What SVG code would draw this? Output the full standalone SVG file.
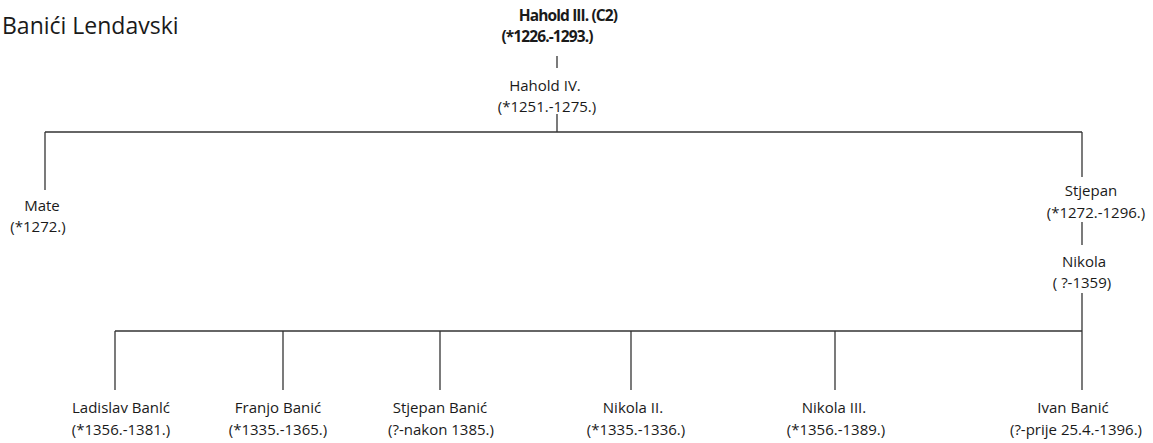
<svg xmlns="http://www.w3.org/2000/svg" width="1153" height="443" viewBox="0 0 1153 443">
<style>
text{font-family:"Open Sans","Noto Sans","Liberation Sans",sans-serif;font-size:15px;fill:#1a1a1a;text-anchor:middle}
.b{font-weight:bold;font-size:15.5px;letter-spacing:-0.9px}
.t{font-size:23px;text-anchor:start}
.c line{stroke:#333;stroke-width:1.3;fill:none}
</style>
<rect width="1153" height="443" fill="#fff"/>
<text class="t" x="2" y="34">Banići Lendavski</text>
<g class="c" id="connectors">
<line x1="557" y1="56" x2="557" y2="68"/>
<line x1="557" y1="114" x2="557" y2="132"/>
<line x1="45" y1="132" x2="1082" y2="132"/>
<line x1="45" y1="132" x2="45" y2="190"/>
<line x1="1082" y1="132" x2="1082" y2="177"/>
<line x1="1082" y1="222" x2="1082" y2="245"/>
<line x1="1082" y1="293" x2="1082" y2="390"/>
<line x1="115" y1="331" x2="1082" y2="331"/>
<line x1="115" y1="331" x2="115" y2="390"/>
<line x1="283" y1="331" x2="283" y2="390"/>
<line x1="440" y1="331" x2="440" y2="390"/>
<line x1="631" y1="331" x2="631" y2="390"/>
<line x1="835" y1="331" x2="835" y2="390"/>
</g>
<g id="hahold3"><text class="b" x="568" y="21">Hahold III. (C2)</text><text class="b" x="547" y="42">(*1226.-1293.)</text></g>
<g id="hahold4"><text x="545" y="91">Hahold IV.</text><text x="547" y="112">(*1251.-1275.)</text></g>
<g id="mate"><text x="42" y="211">Mate</text><text x="38" y="232">(*1272.)</text></g>
<g id="stjepan"><text x="1091" y="196">Stjepan</text><text x="1096" y="218">(*1272.-1296.)</text></g>
<g id="nikola"><text x="1084" y="267">Nikola</text><text x="1082" y="288">( ?-1359)</text></g>
<g id="ladislav"><text x="121" y="413">Ladislav Banlć</text><text x="121" y="435">(*1356.-1381.)</text></g>
<g id="franjo"><text x="278" y="413">Franjo Banić</text><text x="278" y="435">(*1335.-1365.)</text></g>
<g id="stjepanb"><text x="440" y="413">Stjepan Banić</text><text x="441" y="435">(?-nakon 1385.)</text></g>
<g id="nikola2"><text x="633" y="413">Nikola II.</text><text x="636" y="435">(*1335.-1336.)</text></g>
<g id="nikola3"><text x="834" y="413">Nikola III.</text><text x="836" y="435">(*1356.-1389.)</text></g>
<g id="ivan"><text x="1073" y="413">Ivan Banić</text><text x="1076" y="435">(?-prije 25.4.-1396.)</text></g>
</svg>
